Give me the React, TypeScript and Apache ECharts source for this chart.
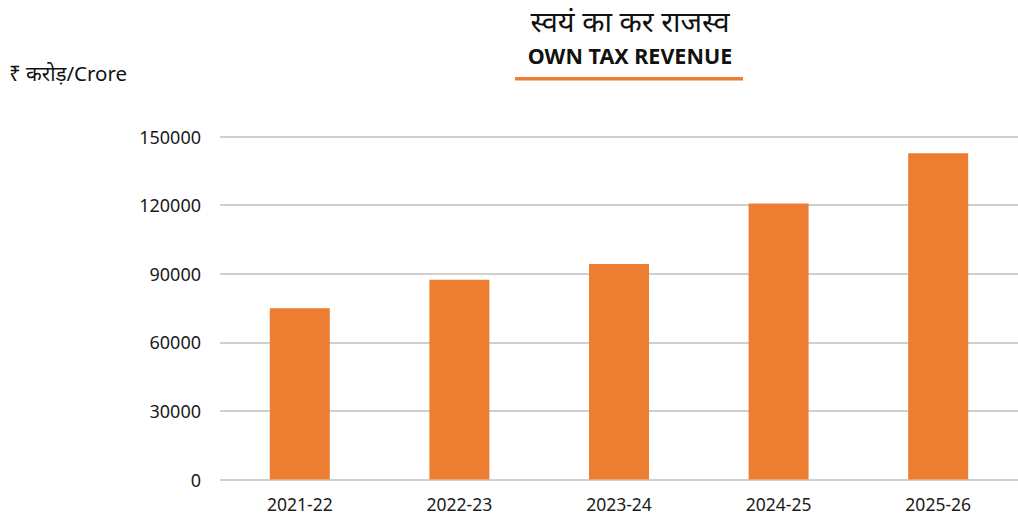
import React, { useEffect, useRef } from "react";
import * as echarts from "echarts";

const categories = ["2021-22", "2022-23", "2023-24", "2024-25", "2025-26"];
const revenue = [74900, 87300, 94200, 120700, 142700];
const yTicks = { min: 0, max: 150000, interval: 30000 };
const titleHindi = "स्वयं का कर राजस्व";
const titleEnglish = "OWN TAX REVENUE";
const unitLabel = "₹ करोड़/Crore";

const FONT = "'Noto Sans', 'Open Sans', 'Noto Sans Devanagari', sans-serif";

export default function App() {
  const ref = useRef<HTMLDivElement>(null);
  useEffect(() => {
    if (!ref.current) return;
    const chart = echarts.init(ref.current, null, { renderer: "svg" });
    chart.setOption({
      animation: false,
      backgroundColor: "#ffffff",
      textStyle: { fontFamily: FONT },
      grid: { left: 220, top: 136.5, width: 800, height: 343, containLabel: false },
      xAxis: {
        type: "category",
        data: categories,
        axisLine: { show: false },
        axisTick: { show: false },
        axisLabel: { color: "#1a1a1a", fontSize: 17.5, margin: 15, fontFamily: FONT },
      },
      yAxis: {
        type: "value",
        min: yTicks.min,
        max: yTicks.max,
        interval: yTicks.interval,
        axisLine: { show: false },
        axisTick: { show: false },
        axisLabel: {
          color: "#1a1a1a",
          fontSize: 18,
          margin: 19,
          fontFamily: FONT,
          formatter: (v: number) => String(v),
        },
        splitLine: { lineStyle: { color: "#bfbfbf", width: 1.5 } },
      },
      series: [
        {
          type: "bar",
          data: revenue,
          barWidth: 60,
          itemStyle: { color: "#ED7D31" },
        },
      ],
      graphic: [
        {
          type: "text",
          x: 630,
          y: 20,
          style: {
            text: titleHindi,
            fontSize: 29,
            fontFamily: FONT,
            fill: "#111111",
            textAlign: "center",
            textVerticalAlign: "middle",
          },
        },
        {
          type: "text",
          x: 630,
          y: 55,
          style: {
            text: titleEnglish,
            fontSize: 21.5,
            fontWeight: "bold",
            fontFamily: FONT,
            fill: "#111111",
            textAlign: "center",
            textVerticalAlign: "middle",
          },
        },
        {
          type: "rect",
          shape: { x: 515, y: 77, width: 228, height: 3.5 },
          style: { fill: "#ED7D31" },
        },
        {
          type: "text",
          x: 9,
          y: 73,
          style: {
            text: unitLabel,
            fontSize: 20.5,
            fontFamily: FONT,
            fill: "#111111",
            textVerticalAlign: "middle",
          },
        },
      ],
    });
    return () => chart.dispose();
  }, []);
  return (
    <div
      ref={ref}
      style={{ position: "absolute", left: 0, top: 0, width: 1018, height: 519 }}
    />
  );
}
